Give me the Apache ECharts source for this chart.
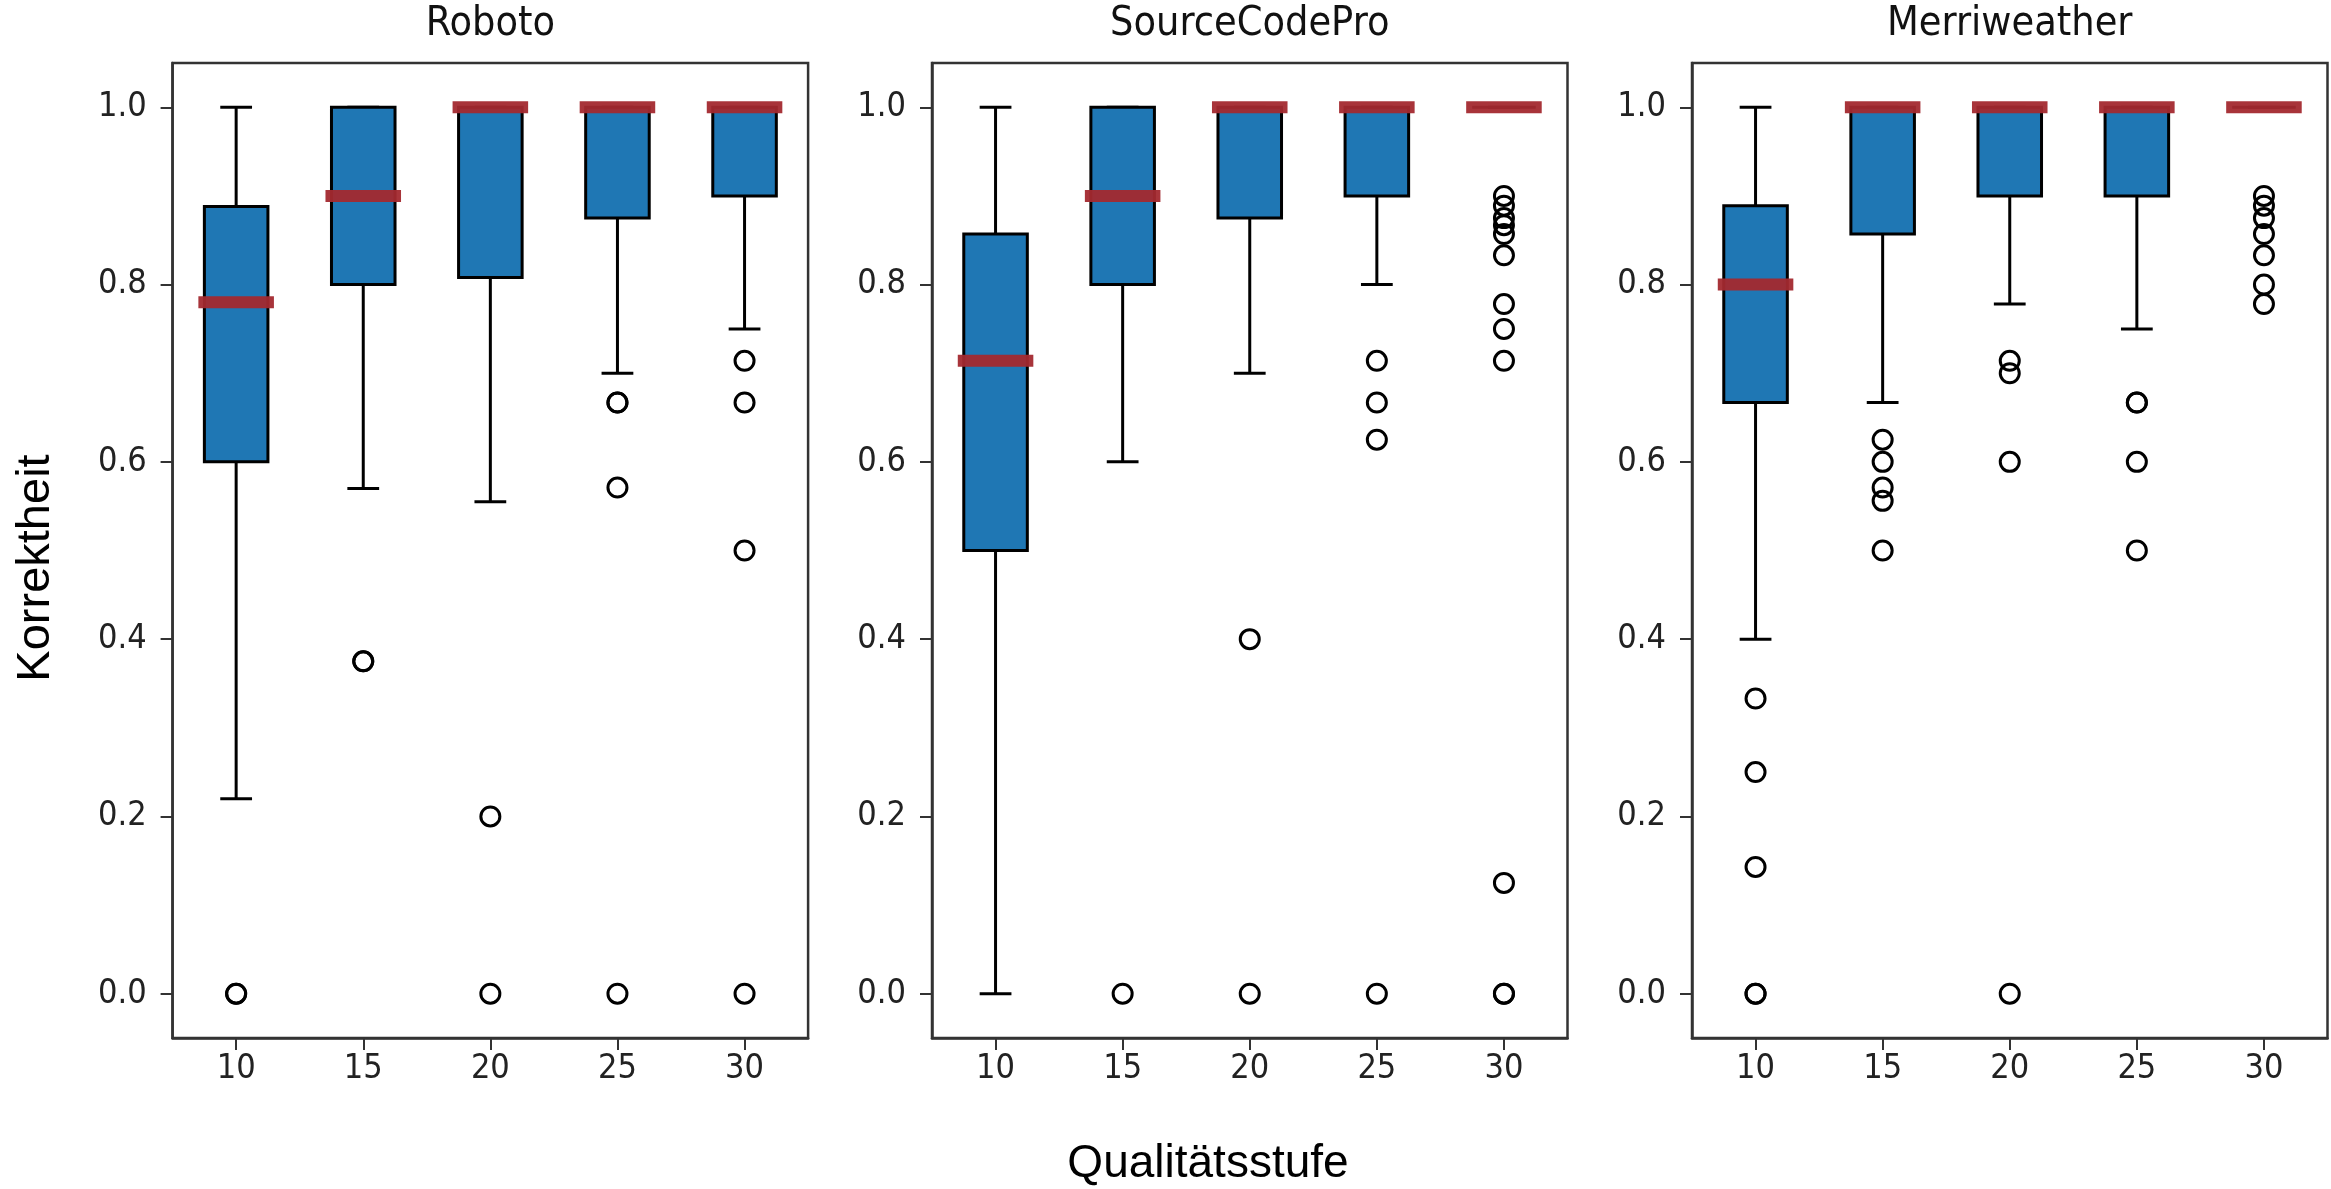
<!DOCTYPE html>
<html>
<head>
<meta charset="utf-8">
<script src="https://cdn.jsdelivr.net/npm/echarts@6/dist/echarts.min.js"></script>
<style>
  html, body { margin: 0; padding: 0; background: #fff; }
  #chart { width: 2331px; height: 1189px; }
</style>
</head>
<body>
<div id="chart"></div>
<script>
// ---------- data ----------
const categories = ['10', '15', '20', '25', '30'];
const panelTitles = ['Roboto', 'SourceCodePro', 'Merriweather'];
const yTicks = [0.0, 0.2, 0.4, 0.6, 0.8, 1.0];
const xAxisTitle = 'Qualitätsstufe';
const yAxisTitle = 'Korrektheit';

// box stats per category: [lower whisker, Q1, median, Q3, upper whisker]
const robotoBoxes = [
  [0.22, 0.60, 0.78, 0.888, 1.0],
  [0.57, 0.80, 0.90, 1.0, 1.0],
  [0.555, 0.808, 1.0, 1.0, 1.0],
  [0.70, 0.875, 1.0, 1.0, 1.0],
  [0.75, 0.90, 1.0, 1.0, 1.0]
];
const sourceCodeProBoxes = [
  [0.0, 0.50, 0.714, 0.857, 1.0],
  [0.60, 0.80, 0.90, 1.0, 1.0],
  [0.70, 0.875, 1.0, 1.0, 1.0],
  [0.80, 0.90, 1.0, 1.0, 1.0],
  [1.0, 1.0, 1.0, 1.0, 1.0]
];
const merriweatherBoxes = [
  [0.40, 0.667, 0.80, 0.889, 1.0],
  [0.667, 0.857, 1.0, 1.0, 1.0],
  [0.778, 0.90, 1.0, 1.0, 1.0],
  [0.75, 0.90, 1.0, 1.0, 1.0],
  [1.0, 1.0, 1.0, 1.0, 1.0]
];

// outliers per category (index into categories)
const robotoOutliers = [
  [0.0, 0.0],
  [0.375, 0.375],
  [0.2, 0.0],
  [0.667, 0.667, 0.571, 0.0],
  [0.714, 0.667, 0.5, 0.0]
];
const sourceCodeProOutliers = [
  [],
  [0.0],
  [0.4, 0.0],
  [0.714, 0.667, 0.625, 0.0],
  [0.9, 0.889, 0.875, 0.867, 0.857, 0.833, 0.778, 0.75, 0.714, 0.125, 0.0, 0.0]
];
const merriweatherOutliers = [
  [0.333, 0.25, 0.143, 0.0, 0.0],
  [0.625, 0.6, 0.571, 0.556, 0.5],
  [0.714, 0.7, 0.6, 0.0],
  [0.667, 0.667, 0.6, 0.5],
  [0.9, 0.889, 0.875, 0.857, 0.833, 0.8, 0.778]
];

const panelBoxes = [robotoBoxes, sourceCodeProBoxes, merriweatherBoxes];
const panelOutliers = [robotoOutliers, sourceCodeProOutliers, merriweatherOutliers];

// ---------- layout / style ----------
const GRID_LEFTS = [172.6, 932, 1692];
const GRID_TOP = 63;
const GRID_W = 635.5;
const GRID_H = 975;
const TICK_FONT = "'DejaVu Sans Condensed', 'DejaVu Sans', sans-serif";
const BOX_COLOR = '#1f77b4';
const MEDIAN_COLOR = '#a3292f';
const FRAME_COLOR = '#333333';

function renderBox(params, api) {
  const idx = api.value(0);
  const low = api.value(1), q1 = api.value(2), med = api.value(3), q3 = api.value(4), high = api.value(5);
  const band = api.size([1, 0])[0];
  const bw = band * 0.5;
  const cw = bw * 0.5;
  const pLow = api.coord([idx, low]);
  const pQ1 = api.coord([idx, q1]);
  const pMed = api.coord([idx, med]);
  const pQ3 = api.coord([idx, q3]);
  const pHigh = api.coord([idx, high]);
  const x = pMed[0];
  const wStyle = { stroke: '#000', lineWidth: 3, fill: null };
  return {
    type: 'group',
    children: [
      { type: 'line', shape: { x1: x, y1: pQ1[1], x2: x, y2: pLow[1] }, style: wStyle },
      { type: 'line', shape: { x1: x, y1: pQ3[1], x2: x, y2: pHigh[1] }, style: wStyle },
      { type: 'line', shape: { x1: x - cw / 2, y1: pLow[1], x2: x + cw / 2, y2: pLow[1] }, style: wStyle },
      { type: 'line', shape: { x1: x - cw / 2, y1: pHigh[1], x2: x + cw / 2, y2: pHigh[1] }, style: wStyle },
      { type: 'rect', shape: { x: x - bw / 2, y: pQ3[1], width: bw, height: pQ1[1] - pQ3[1] },
        style: { fill: BOX_COLOR, stroke: '#000', lineWidth: 3 } },
      { type: 'line', shape: { x1: x - bw / 2, y1: pMed[1], x2: x + bw / 2, y2: pMed[1] },
        style: { stroke: MEDIAN_COLOR, lineWidth: 12, lineCap: 'square', opacity: 0.95 } }
    ]
  };
}

const grids = [], xAxes = [], yAxes = [], series = [], titles = [];
for (let p = 0; p < 3; p++) {
  grids.push({
    left: GRID_LEFTS[p], top: GRID_TOP, width: GRID_W, height: GRID_H,
    show: true, borderColor: FRAME_COLOR, borderWidth: 2.5, backgroundColor: '#fff',
    containLabel: false, outerBoundsMode: 'none'
  });
  xAxes.push({
    type: 'category', gridIndex: p, data: categories, boundaryGap: true,
    axisLine: { show: true, onZero: false, lineStyle: { color: FRAME_COLOR, width: 2.5 } },
    axisTick: { show: true, alignWithLabel: true, length: 12, lineStyle: { color: FRAME_COLOR, width: 2 } },
    axisLabel: { show: true, color: '#222', fontFamily: TICK_FONT, fontSize: 34, margin: 14 },
    splitLine: { show: false }
  });
  yAxes.push({
    type: 'value', gridIndex: p, min: -0.05, max: 1.05,
    axisLine: { show: true, onZero: false, lineStyle: { color: FRAME_COLOR, width: 2.5 } },
    axisTick: { show: true, length: 12, customValues: yTicks, lineStyle: { color: FRAME_COLOR, width: 2 } },
    axisLabel: { show: true, customValues: yTicks, color: '#222', fontFamily: TICK_FONT, fontSize: 34, margin: 26,
      formatter: v => Number(v).toFixed(1) },
    splitLine: { show: false }
  });
  series.push({
    type: 'custom', xAxisIndex: p, yAxisIndex: p,
    renderItem: renderBox,
    encode: { x: 0, y: [1, 2, 3, 4, 5] },
    data: panelBoxes[p].map((b, i) => [i].concat(b)),
    silent: true, z: 2
  });
  const pts = [];
  panelOutliers[p].forEach((vals, i) => vals.forEach(v => pts.push([i, v])));
  series.push({
    type: 'scatter', xAxisIndex: p, yAxisIndex: p,
    data: pts, symbol: 'circle', symbolSize: 19,
    itemStyle: { color: 'rgba(0,0,0,0)', borderColor: '#000', borderWidth: 3, opacity: 1 },
    silent: true, z: 3
  });
  titles.push({
    text: panelTitles[p], left: GRID_LEFTS[p] + GRID_W / 2, top: 4, textAlign: 'center', padding: 0,
    textStyle: { fontFamily: TICK_FONT, fontSize: 41, fontWeight: 'normal', color: '#111' }
  });
}

const chart = echarts.init(document.getElementById('chart'), null, { renderer: 'canvas' });
chart.setOption({
  animation: false,
  backgroundColor: '#fff',
  title: titles,
  grid: grids,
  xAxis: xAxes,
  yAxis: yAxes,
  series: series,
  graphic: [
    { type: 'text', x: 1208, y: 1164, silent: true,
      style: { text: xAxisTitle, font: "46px 'Liberation Sans', Arial, sans-serif", fill: '#000',
        textAlign: 'center', textVerticalAlign: 'middle' } },
    { type: 'text', x: 36, y: 568, rotation: Math.PI / 2, silent: true,
      style: { text: yAxisTitle, font: "47px 'Liberation Sans', Arial, sans-serif", fill: '#000',
        textAlign: 'center', textVerticalAlign: 'middle' } }
  ]
});
</script>
</body>
</html>
